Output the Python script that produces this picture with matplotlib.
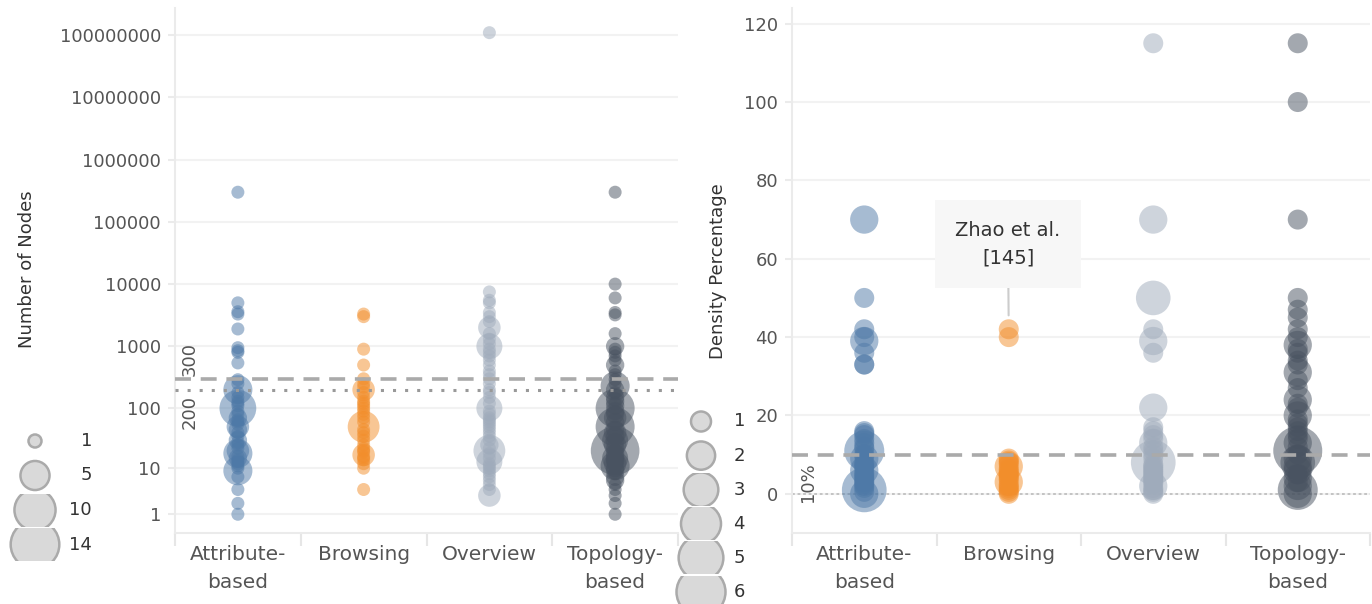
import matplotlib
matplotlib.use("Agg")
import matplotlib.pyplot as plt
import matplotlib.transforms as mtransforms
import numpy as np
from matplotlib.patches import Circle, Rectangle

plt.rcParams['font.family'] = ['DejaVu Sans']
plt.rcParams['lines.scale_dashes'] = False

categories = ["Attribute-\nbased", "Browsing", "Overview", "Topology-\nbased"]
colors = ["#4e79a7", "#f28e2b", "#9fabbb", "#495361"]

# left panel: number of nodes, and how many papers share each value
attr_nodes = [300000, 5000, 3600, 3300, 1900, 950, 850, 800, 540, 290, 250, 200, 180, 150, 130,
              120, 110, 100, 90, 80, 70, 65, 60, 55, 50, 45, 40, 35, 30, 28, 25, 22, 20, 18, 16,
              15, 14, 13, 12, 11, 10, 9, 7, 4, 2, 1]
attr_nodes_n = [1, 1, 1, 1, 1, 1, 1, 1, 1, 1, 1, 5, 1, 1, 1, 1, 1, 8, 1, 1, 2, 1, 1, 1, 3, 2, 1, 1,
                2, 1, 1, 1, 3, 5, 1, 2, 1, 1, 1, 1, 1, 5, 1, 1, 1, 1]
browse_nodes = [3300, 3000, 900, 500, 300, 250, 220, 200, 180, 150, 130, 120, 110, 100, 90, 80, 70,
                60, 50, 45, 40, 35, 30, 25, 22, 20, 19, 17, 16, 15, 14, 12, 10, 4]
browse_nodes_n = [1, 1, 1, 1, 1, 1, 1, 3, 1, 1, 1, 1, 1, 1, 1, 1, 1, 1, 6, 1, 1, 1, 1, 1, 1, 1, 1,
                  3, 1, 1, 1, 1, 1, 1]
over_nodes = [110000000, 7500, 5500, 5000, 3500, 3000, 2500, 2000, 1600, 1300, 1100, 1000, 900,
              800, 700, 600, 500, 400, 350, 300, 250, 200, 180, 150, 120, 100, 90, 80, 70, 65, 60,
              55, 50, 45, 40, 35, 30, 25, 22, 20, 18, 15, 13, 12, 11, 10, 9, 8, 7, 6, 5, 4, 3]
over_nodes_n = [1, 1, 1, 1, 1, 1, 1, 3, 1, 1, 1, 4, 1, 1, 1, 1, 1, 1, 1, 1, 1, 1, 1, 1, 1, 4, 1, 1,
                1, 1, 1, 1, 1, 1, 1, 1, 1, 2, 1, 6, 1, 1, 4, 1, 1, 1, 1, 1, 1, 1, 1, 1, 3]
topo_nodes = [300000, 10000, 6000, 3500, 3200, 1600, 1000, 900, 800, 700, 600, 500, 400, 350, 290,
              250, 230, 200, 180, 150, 130, 120, 110, 100, 90, 80, 70, 60, 50, 45, 40, 35, 30, 28,
              25, 22, 20, 18, 16, 15, 14, 13, 12, 11, 10, 9, 8, 7, 6, 5, 4, 3, 2, 1]
topo_nodes_n = [1, 1, 1, 1, 1, 1, 2, 1, 1, 1, 1, 2, 1, 1, 1, 1, 5, 2, 1, 2, 2, 1, 2, 9, 2, 2, 3, 2,
                9, 2, 3, 2, 4, 2, 3, 2, 14, 2, 2, 4, 2, 2, 3, 5, 2, 2, 1, 2, 2, 1, 1, 1, 1, 1]

# right panel: density percentage
attr_dens = [70, 50, 42, 40, 39, 36, 33, 33, 16, 15.5, 15, 14, 13, 12, 11.5, 11, 10, 9.5, 9, 8,
             7.5, 7, 6.5, 6, 5.5, 5, 4.5, 4, 3.5, 3, 2.5, 2, 1.5, 1, 0.5, 0]
attr_dens_n = [2, 1, 1, 1, 2, 1, 1, 1, 1, 1, 1, 1, 1, 1, 1, 4, 1, 1, 2, 1, 1, 1, 1, 2, 1, 1, 1, 1,
               1, 1, 1, 1, 1, 5, 1, 2]
browse_dens = [42, 40, 9, 8.5, 8, 7.5, 7, 6.5, 6, 5.5, 5, 4.5, 4, 3.5, 3, 2.5, 2, 1.5, 1, 0.5, 0]
browse_dens_n = [1, 1, 1, 1, 1, 1, 2, 1, 1, 1, 1, 1, 1, 1, 2, 1, 1, 1, 1, 1, 1]
over_dens = [115, 70, 50, 42, 39, 36, 22, 17, 16, 15, 14, 13, 12, 11, 10, 9, 8, 7.5, 7, 6.5, 6, 5.5,
             5, 4.5, 4, 3.5, 3, 2.5, 2, 1.5, 1, 0.5, 0]
over_dens_n = [1, 2, 3, 1, 2, 1, 2, 1, 1, 1, 1, 2, 1, 1, 1, 1, 5, 1, 1, 1, 1, 1, 1, 1, 1, 1, 1, 1,
               2, 1, 1, 1, 1]
topo_dens = [115, 100, 70, 50, 47, 45, 42, 40, 38, 37, 36, 34, 33, 31, 29, 27, 24, 23, 22, 20, 19,
             18, 17, 16, 15, 14, 13, 12, 11, 10, 9, 8, 7, 6, 5, 4, 3, 2, 1, 0]
topo_dens_n = [1, 1, 1, 1, 1, 1, 1, 1, 2, 1, 1, 1, 1, 2, 1, 1, 2, 1, 1, 2, 1, 1, 1, 1, 1, 1, 2, 1,
               6, 1, 2, 3, 2, 2, 1, 2, 1, 2, 4, 2]

nodes_ticks = [1, 10, 100, 1000, 10000, 100000, 1000000, 10000000, 100000000]
dens_ticks = [0, 20, 40, 60, 80, 100, 120]
nodes_legend = [1, 5, 10, 14]
dens_legend = [1, 2, 3, 4, 5, 6]

W, H, DPI = 1372, 604, 100
fig = plt.figure(figsize=(W / DPI, H / DPI), dpi=DPI)


def px_box(x0, y0, x1, y1):
    return [x0 / W, 1 - y1 / H, (x1 - x0) / W, (y1 - y0) / H]


ax1 = fig.add_axes(px_box(175, 8, 678, 533))
ax2 = fig.add_axes(px_box(792, 8, 1370, 533))

# marker area per paper (points^2): unit diameter 13px left, 20px right
unit1 = (13 * 0.72) ** 2
unit2 = (20 * 0.72) ** 2

left_data = [(attr_nodes, attr_nodes_n), (browse_nodes, browse_nodes_n),
             (over_nodes, over_nodes_n), (topo_nodes, topo_nodes_n)]
right_data = [(attr_dens, attr_dens_n), (browse_dens, browse_dens_n),
              (over_dens, over_dens_n), (topo_dens, topo_dens_n)]


def style(ax, ticks):
    for name, sp in ax.spines.items():
        if name in ("left", "bottom"):
            sp.set_color("#ebebeb")
            sp.set_linewidth(1.5)
        else:
            sp.set_visible(False)
    ax.set_xlim(-0.5, 3.5)
    ax.set_xticks(range(4))
    ax.set_xticklabels(categories, fontsize=14.5, color="#555555", linespacing=1.6)
    ax.set_xticks([-0.5, 0.5, 1.5, 2.5, 3.5], minor=True)
    ax.tick_params(axis="x", which="major", length=0, pad=9)
    ax.tick_params(axis="x", which="minor", length=9, color="#e6e6e6", width=1.5)
    ax.set_yticks(ticks)
    ax.yaxis.set_minor_locator(matplotlib.ticker.NullLocator())
    ax.tick_params(axis="y", length=5, color="#ebebeb", width=1.5, labelsize=13,
                   labelcolor="#555555", pad=5)
    for t in ticks:
        ax.axhline(t, color="#f2f2f2", lw=1.5, zorder=0)


# ---- left: number of nodes ----
ax1.set_yscale("function", functions=(lambda v: np.log10(1 + np.maximum(v, 0)),
                                      lambda u: 10 ** u - 1))
style(ax1, nodes_ticks)
ax1.set_yticklabels([str(t) for t in nodes_ticks])
ax1.set_ylim(0, 2.74e8)
for i, (vals, cnt) in enumerate(left_data):
    ax1.scatter(np.full(len(vals), i), vals, s=np.array(cnt) * unit1, color=colors[i],
                alpha=0.5, linewidths=0, zorder=3, clip_on=False)
ax1.axhline(300, color="#aaaaaa", lw=2.6, ls=(0, (11.5, 7)), zorder=4)
ax1.axhline(200, color="#999999", lw=2.2, ls=(0, (2.2, 6.5)), zorder=4)
bt1 = mtransforms.blended_transform_factory(ax1.transAxes, ax1.transData)
ax1.annotate("300", xy=(0.03, 300), xycoords=bt1, xytext=(0, 3), textcoords="offset pixels",
             rotation=90, ha="center", va="bottom", fontsize=13, color="#555555")
ax1.annotate("200", xy=(0.03, 200), xycoords=bt1, xytext=(0, -5), textcoords="offset pixels",
             rotation=90, ha="center", va="top", fontsize=13, color="#555555")

# ---- right: density percentage ----
style(ax2, dens_ticks)
ax2.set_ylim(-10, 124)
ax2.axhline(0, color="#bbbbbb", lw=1.2, ls=(0, (2, 2)), zorder=1)
for i, (vals, cnt) in enumerate(right_data):
    ax2.scatter(np.full(len(vals), i), vals, s=np.array(cnt) * unit2, color=colors[i],
                alpha=0.5, linewidths=0, zorder=3, clip_on=False)
ax2.axhline(10, color="#aaaaaa", lw=2.6, ls=(0, (11.5, 7)), zorder=4)
bt2 = mtransforms.blended_transform_factory(ax2.transAxes, ax2.transData)
ax2.annotate("10%", xy=(0.028, 10), xycoords=bt2, xytext=(0, -8), textcoords="offset pixels",
             rotation=90, ha="center", va="top", fontsize=13, color="#555555")
ax2.annotate("Zhao et al.\n[145]", xy=(1, 42), xycoords="data",
             xytext=(1008, H - 244), textcoords="figure pixels",
             ha="center", va="center", fontsize=14, color="#333333", linespacing=1.6,
             bbox=dict(boxstyle="square,pad=1.05", fc="#f7f7f7", ec="none"),
             arrowprops=dict(arrowstyle="-", color="#cccccc", lw=1.5, shrinkA=0, shrinkB=10),
             zorder=6)

fig.text(27 / W, 1 - 269 / H, "Number of Nodes", rotation=90, ha="center", va="center",
         fontsize=13, color="#333333")
fig.text(718 / W, 1 - 271 / H, "Density Percentage", rotation=90, ha="center", va="center",
         fontsize=13, color="#333333")

# ---- size legends drawn in pixel space ----
ov = fig.add_axes([0, 0, 1, 1])
ov.set_xlim(0, W)
ov.set_ylim(H, 0)
ov.axis("off")


def size_legend(sizes, cx, y0, step, unit_d, label_x):
    for k, s in enumerate(sizes):
        yc = y0 + k * step
        clip = Rectangle((cx - 40, yc - 16.5), 80, 33, transform=ov.transData)
        c = Circle((cx, yc), unit_d * np.sqrt(s) / 2, fc="#d9d9d9", ec="#aaaaaa", lw=1.8)
        ov.add_patch(c)
        c.set_clip_path(clip)
        ov.text(label_x, yc, str(s), ha="right", va="center", fontsize=13, color="#333333")


size_legend(nodes_legend, 35, 441, 34.5, 13, 92)
size_legend(dens_legend, 701, 421.5, 34.1, 20, 745)

fig.savefig("out.png", dpi=DPI)
